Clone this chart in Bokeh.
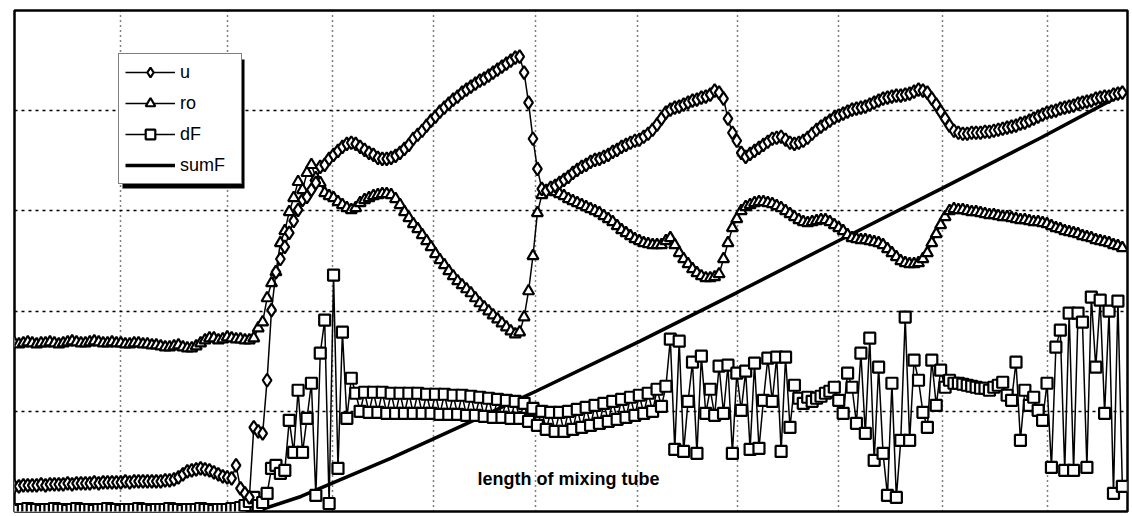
from bokeh.plotting import figure
from bokeh.models import (Legend, LegendItem, Label, BoxAnnotation, FixedTicker,
                          Range1d, ColumnDataSource)
from bokeh.embed import file_html
from bokeh.resources import INLINE

# ---------------- data ----------------
N_SAMPLES = 251
SAMPLE_STEP = 0.043            # spacing of the samples along the tube
tube_position = [round(i * SAMPLE_STEP, 4) for i in range(N_SAMPLES)]

u = [
    0.25, 0.25, 0.26, 0.26, 0.26, 0.26, 0.27, 0.26, 0.27, 0.27,
    0.27, 0.27, 0.28, 0.27, 0.28, 0.28, 0.28, 0.28, 0.29, 0.28,
    0.29, 0.29, 0.29, 0.29, 0.29, 0.30, 0.29, 0.30, 0.30, 0.30,
    0.30, 0.30, 0.30, 0.30, 0.31, 0.31, 0.32, 0.34, 0.37, 0.40,
    0.41, 0.42, 0.43, 0.42, 0.41, 0.39, 0.37, 0.35, 0.34, 0.33,
    0.46, 0.23, 0.18, 0.14, 0.84, 0.80, 0.78, 1.31, 2.01, 2.39,
    2.52, 2.64, 2.78, 2.90, 3.01, 3.11, 3.14, 3.21, 3.28, 3.44,
    3.46, 3.52, 3.56, 3.60, 3.64, 3.67, 3.68, 3.67, 3.64, 3.61,
    3.58, 3.56, 3.53, 3.52, 3.52, 3.53, 3.55, 3.58, 3.62, 3.66,
    3.72, 3.76, 3.80, 3.85, 3.90, 3.94, 3.99, 4.03, 4.07, 4.11,
    4.14, 4.18, 4.21, 4.24, 4.27, 4.30, 4.32, 4.35, 4.38, 4.41,
    4.44, 4.47, 4.50, 4.53, 4.54, 4.38, 4.08, 3.72, 3.42, 3.22,
    3.20, 3.23, 3.25, 3.28, 3.31, 3.34, 3.38, 3.41, 3.44, 3.46,
    3.49, 3.51, 3.52, 3.54, 3.56, 3.59, 3.61, 3.64, 3.66, 3.68,
    3.70, 3.71, 3.74, 3.77, 3.81, 3.86, 3.92, 3.98, 4.01, 4.03,
    4.04, 4.06, 4.08, 4.10, 4.11, 4.13, 4.14, 4.16, 4.20, 4.18,
    4.12, 3.92, 3.78, 3.70, 3.58, 3.54, 3.57, 3.60, 3.63, 3.66,
    3.69, 3.72, 3.73, 3.74, 3.71, 3.68, 3.67, 3.68, 3.70, 3.73,
    3.77, 3.81, 3.84, 3.87, 3.90, 3.93, 3.95, 3.97, 3.99, 4.01,
    4.02, 4.03, 4.04, 4.06, 4.08, 4.10, 4.12, 4.13, 4.14, 4.15,
    4.15, 4.16, 4.17, 4.19, 4.21, 4.20, 4.18, 4.12, 4.06, 3.99,
    3.92, 3.85, 3.80, 3.78, 3.77, 3.77, 3.78, 3.78, 3.78, 3.79,
    3.79, 3.80, 3.81, 3.82, 3.83, 3.84, 3.85, 3.87, 3.88, 3.90,
    3.92, 3.94, 3.96, 3.98, 3.99, 4.00, 4.02, 4.03, 4.04, 4.05,
    4.07, 4.08, 4.09, 4.10, 4.12, 4.13, 4.14, 4.14, 4.16, 4.17,
    4.18,
]

ro = [
    1.68, 1.67, 1.68, 1.69, 1.68, 1.67, 1.68, 1.68, 1.69, 1.68,
    1.67, 1.68, 1.69, 1.70, 1.69, 1.68, 1.68, 1.69, 1.70, 1.69,
    1.68, 1.68, 1.69, 1.68, 1.68, 1.67, 1.67, 1.68, 1.68, 1.67,
    1.67, 1.66, 1.66, 1.65, 1.64, 1.64, 1.65, 1.66, 1.64, 1.63,
    1.63, 1.65, 1.68, 1.71, 1.73, 1.73, 1.71, 1.72, 1.74, 1.73,
    1.72, 1.72, 1.71, 1.71, 1.73, 1.83, 1.89, 2.13, 2.28, 2.39,
    2.68, 2.80, 2.99, 3.13, 3.29, 3.21, 3.38, 3.46, 3.33, 3.28,
    3.18, 3.15, 3.13, 3.09, 3.06, 3.03, 3.01, 3.03, 3.08, 3.11,
    3.13, 3.15, 3.16, 3.17, 3.17, 3.16, 3.12, 3.06, 2.99, 2.93,
    2.87, 2.82, 2.76, 2.70, 2.64, 2.57, 2.51, 2.46, 2.40, 2.35,
    2.30, 2.26, 2.22, 2.18, 2.13, 2.08, 2.04, 2.00, 1.96, 1.92,
    1.88, 1.84, 1.80, 1.77, 1.79, 1.94, 2.20, 2.55, 2.98, 3.16,
    3.20, 3.20, 3.19, 3.17, 3.15, 3.12, 3.10, 3.08, 3.06, 3.04,
    3.02, 3.00, 2.98, 2.95, 2.92, 2.89, 2.85, 2.81, 2.78, 2.75,
    2.72, 2.70, 2.68, 2.67, 2.66, 2.66, 2.66, 2.70, 2.73, 2.66,
    2.58, 2.52, 2.47, 2.42, 2.38, 2.35, 2.33, 2.33, 2.34, 2.37,
    2.52, 2.68, 2.83, 2.92, 3.00, 3.04, 3.06, 3.08, 3.09, 3.09,
    3.08, 3.07, 3.05, 3.03, 3.00, 2.97, 2.94, 2.91, 2.89, 2.88,
    2.89, 2.90, 2.91, 2.91, 2.89, 2.86, 2.83, 2.80, 2.76, 2.73,
    2.72, 2.71, 2.71, 2.70, 2.69, 2.68, 2.66, 2.62, 2.58, 2.54,
    2.50, 2.48, 2.47, 2.47, 2.48, 2.52, 2.58, 2.68, 2.77, 2.86,
    2.94, 3.00, 3.02, 3.01, 3.01, 3.00, 2.99, 2.99, 2.98, 2.97,
    2.96, 2.96, 2.95, 2.94, 2.94, 2.93, 2.92, 2.91, 2.91, 2.90,
    2.89, 2.89, 2.88, 2.87, 2.85, 2.83, 2.82, 2.80, 2.79, 2.78,
    2.77, 2.75, 2.74, 2.73, 2.71, 2.70, 2.69, 2.68, 2.66, 2.65,
    2.63,
]

dF = [
    0.02, 0.01, 0.02, 0.03, 0.02, 0.02, 0.01, 0.02, 0.02, 0.03,
    0.02, 0.02, 0.01, 0.02, 0.03, 0.02, 0.02, 0.02, 0.01, 0.02,
    0.02, 0.03, 0.02, 0.02, 0.01, 0.02, 0.02, 0.02, 0.03, 0.02,
    0.02, 0.01, 0.02, 0.02, 0.02, 0.03, 0.02, 0.02, 0.01, 0.02,
    0.02, 0.02, 0.03, 0.02, 0.02, 0.01, 0.02, 0.02, 0.02, 0.03,
    0.03, 0.04, 0.06, 0.10, 0.14, 0.06, 0.09, 0.18, 0.43, 0.46,
    0.38, 0.41, 0.91, 0.59, 1.21, 0.59, 0.93, 1.28, 0.16, 1.58,
    1.91, 0.08, 2.36, 0.43, 1.79, 0.93, 1.33, 1.18, 1.00, 1.19,
    0.99, 1.19, 0.99, 1.19, 0.98, 1.18, 0.98, 1.18, 0.98, 1.18,
    0.98, 1.18, 0.98, 1.17, 0.98, 1.17, 0.97, 1.17, 0.97, 1.16,
    0.97, 1.16, 0.96, 1.15, 0.96, 1.14, 0.95, 1.13, 0.94, 1.12,
    0.94, 1.11, 0.93, 1.10, 0.93, 1.08, 0.90, 1.03, 0.86, 1.00,
    0.82, 0.99, 0.80, 0.99, 0.80, 1.00, 0.82, 1.02, 0.84, 1.04,
    0.86, 1.06, 0.88, 1.08, 0.90, 1.10, 0.92, 1.12, 0.94, 1.14,
    0.96, 1.16, 0.98, 1.18, 1.00, 1.22, 1.05, 1.25, 1.72, 0.62,
    1.70, 0.60, 1.10, 1.49, 0.58, 1.55, 0.98, 1.22, 0.96, 1.45,
    0.98, 1.46, 0.58, 1.38, 1.01, 1.40, 0.62, 1.48, 0.63, 1.11,
    1.53, 1.10, 1.54, 0.60, 1.54, 0.84, 1.26, 1.13, 1.08, 1.14,
    1.10, 1.13, 1.15, 1.18, 1.20, 1.24, 1.11, 0.98, 1.38, 1.24,
    0.88, 1.58, 0.78, 1.73, 0.51, 1.44, 0.58, 0.16, 1.28, 0.14,
    0.71, 1.94, 0.71, 1.51, 1.31, 0.99, 0.84, 1.51, 1.06, 1.41,
    1.24, 1.31, 1.28, 1.28, 1.27, 1.26, 1.25, 1.24, 1.23, 1.23,
    1.21, 1.24, 1.26, 1.29, 1.16, 1.11, 1.49, 0.71, 1.21, 1.06,
    1.14, 1.01, 0.91, 1.28, 0.44, 1.64, 1.81, 0.41, 1.98, 0.41,
    1.98, 1.89, 0.44, 2.14, 1.44, 2.11, 0.98, 2.00, 0.18, 2.10,
    0.25,
]

# cumulative force, read at a few positions along the tube
sumF_position = [0.0, 2.34, 2.78, 3.65, 4.33, 5.06, 6.07, 7.02, 8.01, 8.99, 9.96, 10.78]
sumF = [0.00, 0.00, 0.15, 0.53, 0.85, 1.20, 1.70, 2.19, 2.71, 3.22, 3.73, 4.18]

series_labels = ["u", "ro", "dF", "sumF"]
x_title = "length of mixing tube"

assert len(u) == len(ro) == len(dF) == N_SAMPLES, (len(u), len(ro), len(dF))

# ---------------- figure ----------------
p = figure(width=1132, height=516, output_backend="svg", toolbar_location=None,
           x_range=Range1d(0, 10.8), y_range=Range1d(0, 5.0),
           min_border_left=14, min_border_right=5, min_border_top=10, min_border_bottom=5,
           background_fill_color="white", border_fill_color="white")
p.xaxis.visible = False
p.yaxis.visible = False
p.outline_line_color = "black"
p.outline_line_width = 2.5

xt = FixedTicker(ticks=[1.03, 2.07, 3.09, 4.07, 5.06, 6.05, 7.02, 8.0, 9.0, 10.02])
yt = FixedTicker(ticks=[1, 2, 3, 4])
p.xaxis.ticker = xt
p.yaxis.ticker = yt
p.xgrid.ticker = xt
p.ygrid.ticker = yt
p.xgrid.grid_line_color = "black"
p.xgrid.grid_line_dash = "1 4"
p.xgrid.grid_line_width = 1.5
p.ygrid.grid_line_color = "black"
p.ygrid.grid_line_dash = "3 4"
p.ygrid.grid_line_width = 1.5

src = ColumnDataSource(dict(x=tube_position, u=u, ro=ro, dF=dF))
fsrc = ColumnDataSource(dict(x=sumF_position, s=sumF))

r_sum = p.line("x", "s", source=fsrc, line_color="black", line_width=3.5)

r_dF_l = p.line("x", "dF", source=src, line_color="black", line_width=1.5)
r_dF_m = p.scatter("x", "dF", source=src, marker="square", size=11,
                   fill_color="white", line_color="black", line_width=2.2)

r_ro_l = p.line("x", "ro", source=src, line_color="black", line_width=1.5)
r_ro_m = p.scatter("x", "ro", source=src, marker="triangle", size=11,
                   fill_color="white", line_color="black", line_width=2.2)

r_u_l = p.line("x", "u", source=src, line_color="black", line_width=1.5)
r_u_m = p.scatter("x", "u", source=src, marker="diamond", size=13,
                  fill_color="white", line_color="black", line_width=2.2)

# legend drop shadow
shadow = BoxAnnotation(left=1.048, right=2.232, top=4.511, bottom=3.224,
                       fill_color="black", fill_alpha=1.0, line_color=None)
p.add_layout(shadow)

legend = Legend(items=[
    LegendItem(label=series_labels[0], renderers=[r_u_l, r_u_m]),
    LegendItem(label=series_labels[1], renderers=[r_ro_l, r_ro_m]),
    LegendItem(label=series_labels[2], renderers=[r_dF_l, r_dF_m]),
    LegendItem(label=series_labels[3], renderers=[r_sum]),
], location=(104, 327), orientation="vertical",
   glyph_width=50, glyph_height=24, label_height=24, label_width=55,
   label_standoff=5, spacing=7, padding=6, margin=0,
   label_text_font="Liberation Sans", label_text_font_size="18px",
   label_text_color="black",
   border_line_color="black", border_line_width=1.5,
   background_fill_color="white", background_fill_alpha=1.0)
p.add_layout(legend)

p.add_layout(Label(x=5.376, y=0.32, text=x_title, text_align="center",
                   text_baseline="middle", text_font="Liberation Sans",
                   text_font_style="bold", text_font_size="18px", text_color="black"))

open("out.html", "w").write(file_html(p, INLINE))
